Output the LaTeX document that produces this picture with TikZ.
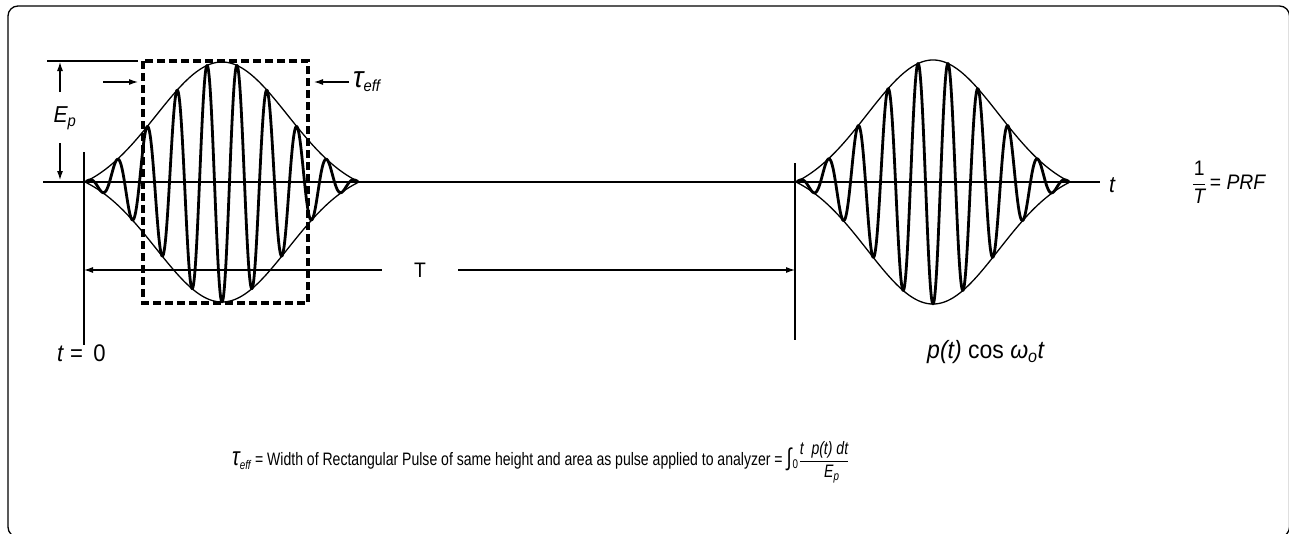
\documentclass[tikz,border=0pt]{standalone}
\usepackage{fontspec}
\setmainfont{Liberation Sans}[FakeStretch=0.92]
\newfontfamily\narrowfont{Liberation Sans}[FakeStretch=0.78]
\usetikzlibrary{positioning,arrows.meta}

\begin{document}
\begin{tikzpicture}[x=1pt,y=-1pt,>={Latex[length=9pt,width=6pt]},
  every node/.style={font=\fontsize{23}{26}\selectfont,inner sep=0pt},
  envelope/.style={line width=1.3pt},
  carrier/.style={line width=2.8pt,line join=round},
  axisline/.style={line width=2.6pt},
  dimline/.style={line width=1.1pt},
  dashbox/.style={line width=3.2pt,dash pattern=on 8pt off 4pt},
  declare function={penv(\u)=(exp(-(\u/93)^2)-0.1142)/(1-0.1142);}]
  \useasboundingbox (0,0) rectangle (1289,533);
  \draw[line width=1.3pt,rounded corners=10pt] (8,6) rectangle (1289.5,537);

  % time axis
  \coordinate (axL) at (43,182);
  \coordinate (axR) at (1100,182);
  \draw[axisline] (axL) -- (axR);
  \node[anchor=west] (tax) at (1109,185) {\textit{t}};

  % the two pulses
  \foreach \c/\a in {222/120,933/122} {
    \draw[envelope,domain=-136:136,samples=120,smooth] plot ({\c+\x},{182-\a*penv(\x)});
    \draw[envelope,domain=-136:136,samples=120,smooth] plot ({\c+\x},{182+\a*penv(\x)});
    \draw[carrier,domain=-136:136,samples=500,smooth] plot ({\c+\x},{182+\a*penv(\x)*cos(12*\x)});
  }

  % equivalent rectangle
  \coordinate (boxNW) at (143,61);
  \coordinate (boxSE) at (308,303);
  \draw[dashbox] (boxNW) rectangle (boxSE);

  % E_p height
  \coordinate (topL) at (47,61);
  \coordinate (topR) at (138,61);
  \draw[dimline] (topL) -- (topR);
  \node (Ep) at (65,118) {\textit{E\textsubscript{p}}};
  \coordinate (EpUp) at (60,62);
  \coordinate (EpDn) at (60,180);
  \draw[->,dimline] (60,92) -- (EpUp);
  \draw[->,dimline] (60,143) -- (EpDn);

  % tau_eff width
  \node[anchor=west] (tau) at (353,82) {\textit{{\fontsize{30}{30}\selectfont τ}\textsubscript{eff}}};
  \coordinate (tauInL) at (138,82);
  \coordinate (tauInR) at (314,82);
  \draw[->,dimline] (103,82) -- (tauInL);
  \draw[->,dimline] ([xshift=-4pt]tau.west |- tauInR) -- (tauInR);

  % period T
  \coordinate (t0Top) at (84,152);
  \coordinate (t0Bot) at (84,345);
  \coordinate (t1Top) at (795,163);
  \coordinate (t1Bot) at (795,340);
  \draw[dimline] (t0Top) -- (t0Bot);
  \draw[dimline] (t1Top) -- (t1Bot);
  \node[inner xsep=32pt,font=\fontsize{21}{24}\selectfont] (Tlab) at (420,270) {T};
  \draw[<-,dimline] (t0Top |- Tlab) -- (Tlab);
  \draw[->,dimline] (Tlab) -- (t1Top |- Tlab);

  % labels
  \node[anchor=west,font=\fontsize{24}{26}\selectfont] (tzero) at (57,353) {\textit{t} =\, 0};
  \node[anchor=west,font=\fontsize{25}{28}\selectfont] (sig) at (927,352) {\textit{p(t)} cos \textit{ω\textsubscript{o}t}};
  \node[anchor=west,font=\fontsize{21}{24}\selectfont] (prf) at (1192,182) {$\displaystyle\frac{\mbox{1}}{\mbox{\itshape T}}$\,= \textit{PRF}};

  % definition
  \node[anchor=west,font=\narrowfont\fontsize{18}{21}\selectfont] (tauDef) at (232,462) {\textit{{\fontsize{26}{26}\selectfont τ}\textsubscript{eff}} = Width of Rectangular Pulse of same height and area as pulse applied to analyzer = \textit{{\fontsize{24}{24}\selectfont ∫}}\textsubscript{0}$\displaystyle\frac{\mbox{\narrowfont\itshape t\ \ p(t) dt}}{\mbox{\narrowfont\itshape\ \ \ \ E\textsubscript{p}}}$};
\end{tikzpicture}
\end{document}
